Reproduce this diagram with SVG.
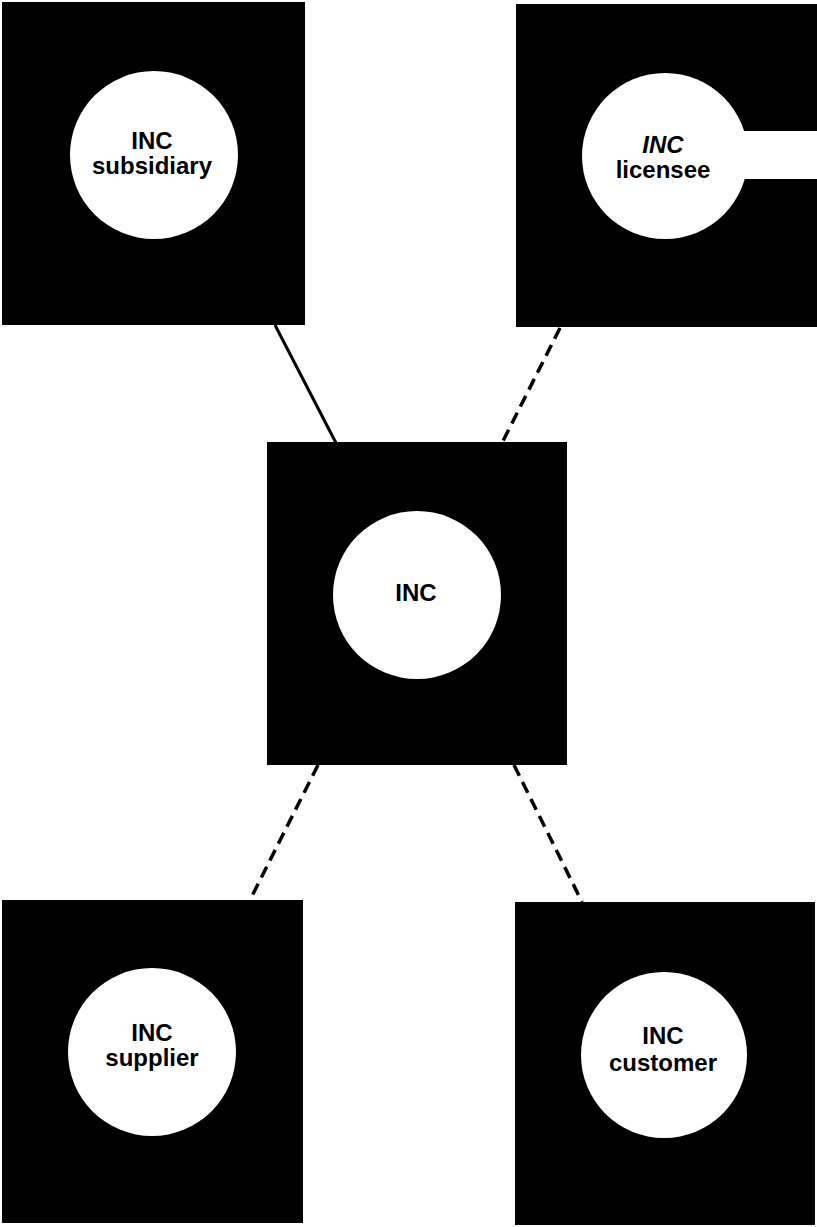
<svg xmlns="http://www.w3.org/2000/svg" width="817" height="1227" viewBox="0 0 817 1227">
<style>
.box{fill:#000}
.hole{fill:#fff}
.lbl{font-family:"Liberation Sans",Arial,Helvetica,sans-serif;font-weight:bold;font-size:24px;fill:#000;text-anchor:middle}
.it{font-style:italic}
.solid{stroke:#000;stroke-width:3;fill:none}
.dash{stroke:#000;stroke-width:3.5;fill:none;stroke-dasharray:12 7}
</style>
<rect width="817" height="1227" fill="#fff"/>
<g id="connectors">
<line class="solid" x1="275" y1="325" x2="336" y2="443"/>
<line class="dash" x1="560" y1="328" x2="502" y2="443"/>
<line class="dash" x1="318" y1="765" x2="250" y2="900"/>
<line class="dash" x1="514" y1="765" x2="582" y2="902"/>
</g>
<g id="subsidiary">
<rect class="box" x="2" y="2" width="303" height="323"/>
<circle class="hole" cx="154" cy="155" r="84"/>
<text class="lbl" x="152" y="149">INC</text>
<text class="lbl" x="152" y="174">subsidiary</text>
</g>
<g id="licensee">
<rect class="box" x="516" y="4" width="301" height="323"/>
<circle class="hole" cx="665" cy="156" r="83"/>
<rect class="hole" x="700" y="131" width="117" height="48"/>
<text class="lbl it" x="663" y="153">INC</text>
<text class="lbl" x="663" y="178">licensee</text>
</g>
<g id="inc">
<rect class="box" x="267" y="442" width="300" height="323"/>
<circle class="hole" cx="417" cy="595" r="84"/>
<text class="lbl" x="416" y="601">INC</text>
</g>
<g id="supplier">
<rect class="box" x="2" y="900" width="301" height="323"/>
<circle class="hole" cx="152" cy="1052" r="84"/>
<text class="lbl" x="152" y="1041">INC</text>
<text class="lbl" x="152" y="1066">supplier</text>
</g>
<g id="customer">
<rect class="box" x="515" y="902" width="300" height="323"/>
<circle class="hole" cx="664" cy="1055" r="83"/>
<text class="lbl" x="663" y="1044">INC</text>
<text class="lbl" x="663" y="1071">customer</text>
</g>
</svg>
